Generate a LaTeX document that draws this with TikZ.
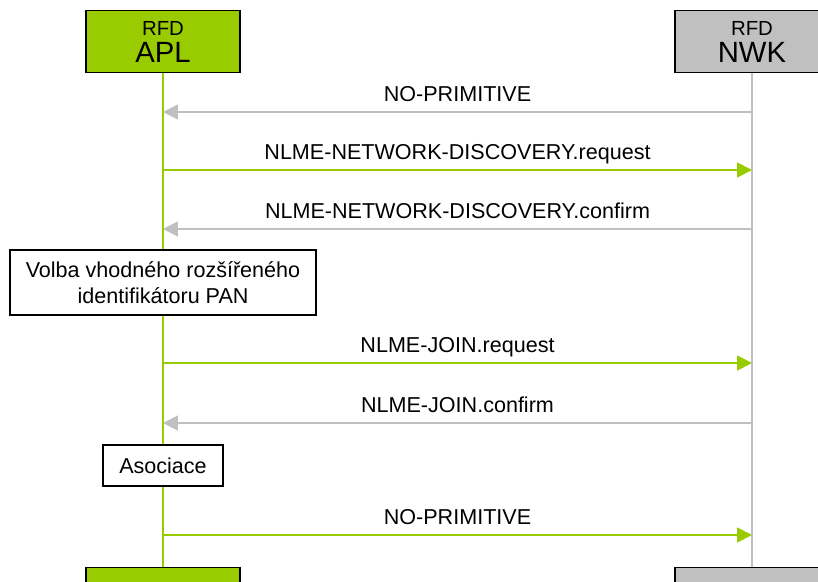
\documentclass[tikz,border=0pt]{standalone}
\usepackage{fontspec}
\setmainfont{Liberation Sans}
\usetikzlibrary{arrows.meta}
\definecolor{aplgreen}{HTML}{99CC00}
\definecolor{nwkgray}{HTML}{C0C0C0}

\begin{document}
\begin{tikzpicture}[x=0.03cm,y=-0.03cm,
  layerbox/.style={draw=black,line width=1.2pt,minimum width=4.62cm,
    minimum height=1.86cm,inner sep=0pt,align=center,
    font=\fontsize{25}{23}\selectfont},
  actbox/.style={draw=black,fill=white,line width=1.2pt,inner sep=0pt,
    align=center,font=\fontsize{18.4}{22.5}\selectfont},
  msglabel/.style={anchor=base,inner sep=0pt,font=\fontsize{18.4}{22}\selectfont},
  msg/.style={line width=1.6pt,-{Triangle[length=12.75pt,width=12.75pt]}}]
\useasboundingbox (0,0) rectangle (818,581);
\clip (0,0) rectangle (818,581);
% layers
\node[layerbox,fill=aplgreen,anchor=north] (apl) at (163,10)
  {{\fontsize{17.4}{19}\selectfont RFD}\\APL};
\node[layerbox,fill=nwkgray,anchor=north] (nwk) at (752,10)
  {{\fontsize{17.4}{19}\selectfont RFD}\\NWK};
\node[layerbox,fill=aplgreen,anchor=north] (aplend) at (163,567) {};
\node[layerbox,fill=nwkgray,anchor=north] (nwkend) at (752,567) {};
% lifelines
\draw[aplgreen,line width=1.6pt] (apl.south) -- (aplend.north);
\draw[nwkgray,line width=1.4pt] (nwk.south) -- (nwkend.north);
% primitives
\foreach \y/\lbl/\col/\src/\dst [count=\i] in {
    112/NO-PRIMITIVE/nwkgray/n/a,
    170/NLME-NETWORK-DISCOVERY.request/aplgreen/a/n,
    229/NLME-NETWORK-DISCOVERY.confirm/nwkgray/n/a,
    363/NLME-JOIN.request/aplgreen/a/n,
    423/NLME-JOIN.confirm/nwkgray/n/a,
    535/NO-PRIMITIVE/aplgreen/a/n} {
  \coordinate (a\i) at (163,\y);
  \coordinate (n\i) at (752,\y);
  \draw[msg,\col] (\src\i) -- (\dst\i);
  \node[msglabel] (m\i) at (457.5,\y-11) {\lbl};
}
% local actions
\node[actbox,minimum width=9.18cm,minimum height=1.95cm] (volba) at (163,282.5)
  {Volba vhodného rozšířeného\\identifikátoru PAN};
\node[actbox,minimum width=3.6cm,minimum height=1.23cm] (asoc) at (163,465.5)
  {Asociace};
\end{tikzpicture}
\end{document}
